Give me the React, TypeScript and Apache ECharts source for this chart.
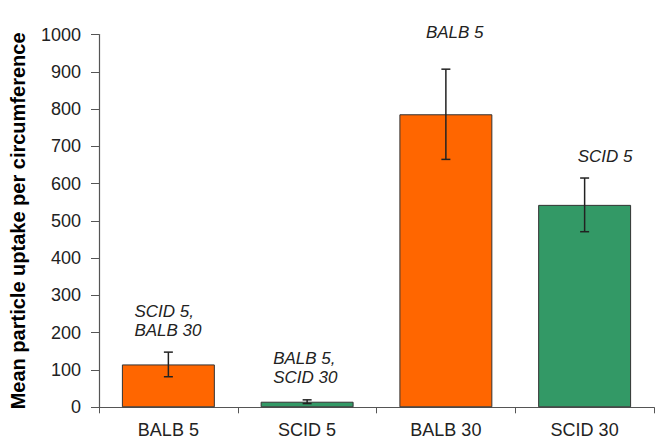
import React, { useEffect, useRef } from "react";
import * as echarts from "echarts";

const categories = ["BALB 5", "SCID 5", "BALB 30", "SCID 30"];
const means = [115, 15, 786, 543];
const errors = [33, 5, 121, 72];
const annotations = ["SCID 5,\nBALB 30", "BALB 5,\nSCID 30", "BALB 5", "SCID 5"];
const yTicks = [0, 100, 200, 300, 400, 500, 600, 700, 800, 900, 1000];

const barColors = ["#FF6600", "#339966", "#FF6600", "#339966"];
// annotation layout (pixel offsets relative to bar centre / error-bar top)
const annOffsetX = [-34, -34, -20, -7];
const annGap = [12, 13, 27, 12];

const FONT = '"Liberation Sans", Arial, sans-serif';

export default function App() {
  const ref = useRef<HTMLDivElement>(null);
  useEffect(() => {
    if (!ref.current) return;
    const chart = echarts.init(ref.current, null, { renderer: "svg" });
    const option: any = {
      animation: false,
      backgroundColor: "#ffffff",
      grid: { left: 97, right: 4, top: 34.5, bottom: 32.7, containLabel: false },
      xAxis: {
        type: "category",
        data: categories,
        boundaryGap: true,
        axisLine: { lineStyle: { color: "#555555", width: 1.2 } },
        axisTick: { show: true, length: 6, alignWithLabel: false, lineStyle: { color: "#555555" } },
        axisLabel: { color: "#222222", fontSize: 18, fontFamily: FONT, margin: 14 },
      },
      yAxis: {
        type: "value",
        min: 0,
        max: 1000,
        interval: 100,
        name: "Mean particle uptake per circumference",
        nameLocation: "middle",
        nameGap: 71,
        nameTextStyle: { color: "#000000", fontSize: 20, fontWeight: "bold", fontFamily: FONT },
        axisLine: { show: true, lineStyle: { color: "#555555", width: 1.2 } },
        axisTick: { show: true, length: 8, lineStyle: { color: "#555555" } },
        splitLine: { show: false },
        axisLabel: {
          color: "#222222",
          fontSize: 18,
          fontFamily: FONT,
          margin: 18,
          formatter: (v: number) => (yTicks.includes(v) ? String(v) : ""),
        },
      },
      series: [
        {
          type: "bar",
          barWidth: "67%",
          data: means.map((v, i) => ({
            value: v,
            itemStyle: { color: barColors[i], borderColor: "#333333", borderWidth: 1 },
          })),
        },
        {
          type: "custom",
          encode: { x: 0, y: [1, 2] },
          data: means.map((m, i) => [i, m - errors[i], m + errors[i]]),
          z: 10,
          renderItem: (params: any, api: any) => {
            const lo = api.coord([api.value(0), api.value(1)]);
            const hi = api.coord([api.value(0), api.value(2)]);
            const x = lo[0];
            const cap = 4.5;
            const style = { stroke: "#222222", lineWidth: 1.5 };
            return {
              type: "group",
              children: [
                { type: "line", shape: { x1: x, y1: lo[1], x2: x, y2: hi[1] }, style },
                { type: "line", shape: { x1: x - cap, y1: hi[1], x2: x + cap, y2: hi[1] }, style },
                { type: "line", shape: { x1: x - cap, y1: lo[1], x2: x + cap, y2: lo[1] }, style },
              ],
            };
          },
        },
        {
          type: "custom",
          encode: { x: 0, y: 1 },
          data: means.map((m, i) => [i, m + errors[i]]),
          z: 11,
          renderItem: (params: any, api: any) => {
            const i = params.dataIndex;
            const p = api.coord([api.value(0), api.value(1)]);
            return {
              type: "text",
              style: {
                text: annotations[i],
                x: p[0] + annOffsetX[i],
                y: p[1] - annGap[i],
                fill: "#222222",
                fontStyle: "italic",
                fontSize: 17,
                fontFamily: FONT,
                align: "left",
                verticalAlign: "bottom",
                lineHeight: 19,
              },
            };
          },
        },
      ],
    };
    chart.setOption(option);
    return () => chart.dispose();
  }, []);
  return (
    <div
      ref={ref}
      style={{ position: "fixed", left: 0, top: 0, width: 658, height: 440, background: "#fff" }}
    />
  );
}
